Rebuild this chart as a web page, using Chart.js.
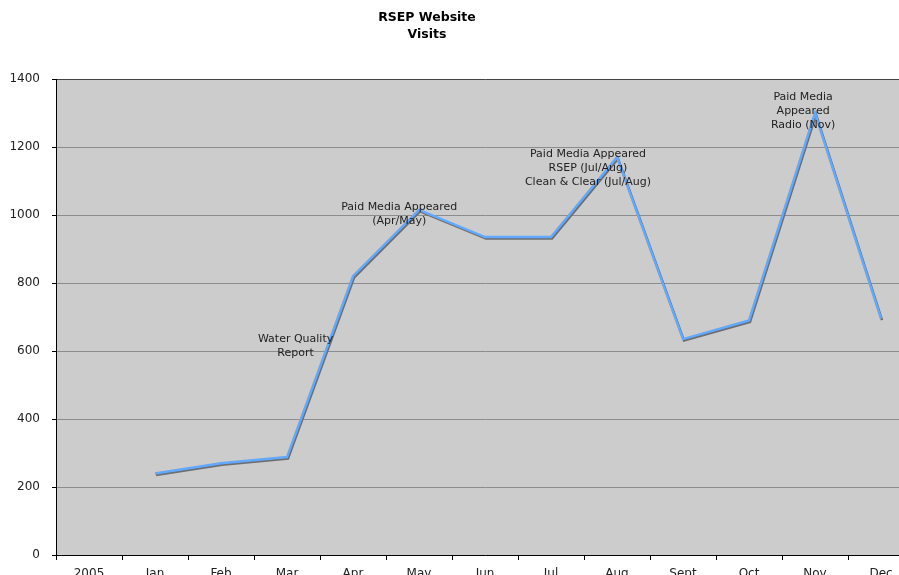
<!DOCTYPE html>
<html>
<head>
<meta charset="utf-8">
<script src="https://cdn.jsdelivr.net/npm/chart.js@4"></script>
<style>
  html, body { margin: 0; padding: 0; background: #fff; overflow: hidden; }
  #wrap { width: 899px; height: 575px; overflow: hidden; position: relative; }
  #box { width: 914px; height: 600px; position: absolute; left: 0; top: 0; }
</style>
</head>
<body>
<div id="wrap"><div id="box"><canvas id="c"></canvas></div></div>
<script>
// ---- data ----
const categories = ['2005', 'Jan', 'Feb', 'Mar', 'Apr', 'May', 'Jun', 'Jul', 'Aug', 'Sept', 'Oct', 'Nov', 'Dec'];
const visits = [null, 240, 270, 288, 820, 1015, 935, 935, 1170, 635, 690, 1300, 695];
const yTicks = [0, 200, 400, 600, 800, 1000, 1200, 1400];
const titleLines = ['RSEP Website', 'Visits'];
const noteTexts = [
  ['Water Quality', 'Report'],
  ['Paid Media Appeared', '(Apr/May)'],
  ['Paid Media Appeared', 'RSEP (Jul/Aug)', 'Clean & Clear (Jul/Aug)'],
  ['Paid Media', 'Appeared', 'Radio (Nov)']
];
// anchors for notes in data units (category index, value of first line)
const noteAnchors = [
  { x: 3.13, y: 635 },
  { x: 4.70, y: 1024 },
  { x: 7.56, y: 1179 },
  { x: 10.82, y: 1347 }
];

const FONT = '"DejaVu Sans", Verdana, sans-serif';

const bgPlugin = {
  id: 'plotBg',
  beforeDraw(chart) {
    const { ctx, chartArea: a } = chart;
    ctx.save();
    ctx.fillStyle = '#cccccc';
    ctx.fillRect(a.left, a.top, a.right - a.left, a.bottom - a.top);
    ctx.restore();
  }
};

const shadowPlugin = {
  id: 'lineShadow',
  beforeDatasetsDraw(chart) {
    const ctx = chart.ctx;
    ctx.save();
    ctx.shadowColor = 'rgba(110,110,110,1)';
    ctx.shadowOffsetX = 1;
    ctx.shadowOffsetY = 1.5;
    ctx.shadowBlur = 0;
  },
  afterDatasetsDraw(chart) {
    chart.ctx.restore();
  }
};

const textPlugin = {
  id: 'texts',
  afterDraw(chart) {
    const ctx = chart.ctx;
    const xs = chart.scales.x, ys = chart.scales.y;
    ctx.save();
    ctx.textAlign = 'center';
    ctx.textBaseline = 'middle';
    ctx.fillStyle = '#000';
    ctx.font = 'bold 12.5px ' + FONT;
    titleLines.forEach((t, i) => ctx.fillText(t, 427, 18 + i * 17));
    ctx.fillStyle = '#222';
    ctx.font = '11px ' + FONT;
    noteTexts.forEach((lines, k) => {
      const px = xs.getPixelForValue(noteAnchors[k].x);
      const py = ys.getPixelForValue(noteAnchors[k].y);
      lines.forEach((t, i) => ctx.fillText(t, px, py + i * 14));
    });
    ctx.restore();
  }
};

new Chart(document.getElementById('c'), {
  type: 'line',
  data: {
    labels: categories,
    datasets: [{
      data: visits,
      borderColor: '#62a8fc',
      borderWidth: 2.5,
      pointRadius: 0,
      tension: 0,
      fill: false,
      spanGaps: false
    }]
  },
  options: {
    responsive: true,
    maintainAspectRatio: false,
    animation: false,
    devicePixelRatio: 1,
    layout: { padding: { top: 79, left: 0, right: 0, bottom: 0 } },
    plugins: {
      legend: { display: false },
      title: { display: false },
      tooltip: { enabled: false }
    },
    scales: {
      x: {
        offset: true,
        grid: {
          offset: true,
          drawOnChartArea: false,
          drawTicks: true,
          tickLength: 5,
          tickColor: '#000'
        },
        border: { color: '#000', width: 1 },
        ticks: { color: '#222', font: { family: FONT, size: 12 }, padding: 7, maxRotation: 0, autoSkip: false },
        afterFit(s) { s.height = 45; }
      },
      y: {
        min: 0,
        max: 1400,
        afterBuildTicks(s) { s.ticks = yTicks.map(v => ({ value: v })); },
        grid: {
          color: (c) => c.tick && c.tick.value === 1400 ? '#444' : '#8c8c8c',
          tickColor: '#000',
          tickLength: 4,
          lineWidth: 1
        },
        border: { color: '#000', width: 1 },
        ticks: {
          color: '#222',
          font: { family: FONT, size: 12 },
          padding: 12,
          callback: (v) => String(v)
        },
        afterFit(s) { s.width = 56; }
      }
    }
  },
  plugins: [bgPlugin, shadowPlugin, textPlugin]
});
</script>
</body>
</html>
